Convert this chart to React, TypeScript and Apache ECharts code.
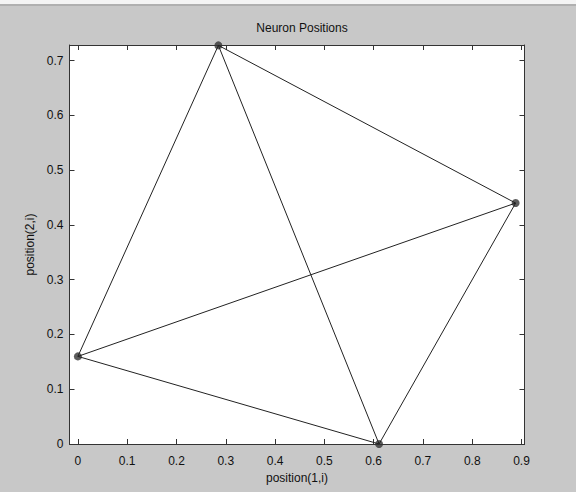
import React, { useEffect, useRef } from "react";
import * as echarts from "echarts";

const neuronX = [0, 0.285, 0.888, 0.611];
const neuronY = [0.16, 0.728, 0.44, 0];
const edges: [number, number][] = [
  [0, 1],
  [0, 2],
  [0, 3],
  [1, 2],
  [1, 3],
  [2, 3],
];
const xTicks = [0, 0.1, 0.2, 0.3, 0.4, 0.5, 0.6, 0.7, 0.8, 0.9];
const yTicks = [0, 0.1, 0.2, 0.3, 0.4, 0.5, 0.6, 0.7];
const xRange = [-0.017, 0.906];
const yRange = [0, 0.7287];

export default function App() {
  const ref = useRef<HTMLDivElement>(null);
  useEffect(() => {
    document.body.style.margin = "0";
    const chart = echarts.init(ref.current!, null, { renderer: "svg" });
    const lineData: (number[] | null)[] = [];
    edges.forEach(([a, b], i) => {
      if (i > 0) lineData.push(null as any);
      lineData.push([neuronX[a], neuronY[a]]);
      lineData.push([neuronX[b], neuronY[b]]);
    });
    const font = "'Liberation Sans', Arial, sans-serif";
    const axisLineStyle = { color: "#333", width: 1 };
    const baseX = {
      type: "value" as const,
      min: xRange[0],
      max: xRange[1],
      splitLine: { show: false },
      axisLine: { show: true, onZero: false, lineStyle: axisLineStyle },
    };
    const baseY = {
      type: "value" as const,
      min: yRange[0],
      max: yRange[1],
      splitLine: { show: false },
      axisLine: { show: true, onZero: false, lineStyle: axisLineStyle },
    };
    chart.setOption({
      animation: false,
      backgroundColor: "#c8c8c8",
      textStyle: { fontFamily: font },
      title: {
        text: "Neuron Positions",
        left: 297,
        top: 17,
        textAlign: "center",
        textStyle: { fontSize: 12, fontWeight: "normal", color: "#111", fontFamily: font },
      },
      graphic: [
        { type: "rect", shape: { x: 0, y: 0, width: 576, height: 4 }, style: { fill: "#f4f4f4" } },
        { type: "rect", shape: { x: 0, y: 4, width: 576, height: 2 }, style: { fill: "#b0b0b0" } },
      ],
      grid: { left: 69.5, top: 45, right: 51.5, bottom: 48, backgroundColor: "#fff", show: true, borderWidth: 0 },
      xAxis: [
        {
          ...baseX,
          position: "bottom",
          name: "position(1,i)",
          nameLocation: "middle",
          nameGap: 28,
          nameTextStyle: { fontSize: 12, color: "#111", fontFamily: font },
          axisTick: { show: true, inside: true, length: 5, customValues: xTicks, lineStyle: axisLineStyle },
          axisLabel: {
            show: true,
            customValues: xTicks,
            margin: 11,
            fontSize: 12,
            color: "#111",
            fontFamily: font,
            formatter: (v: number) => String(Math.round(v * 10) / 10),
          },
        },
        {
          ...baseX,
          position: "top",
          axisTick: { show: true, inside: true, length: 5, customValues: xTicks, lineStyle: axisLineStyle },
          axisLabel: { show: false },
        },
      ],
      yAxis: [
        {
          ...baseY,
          position: "left",
          name: "position(2,i)",
          nameLocation: "middle",
          nameGap: 30,
          nameTextStyle: { fontSize: 12, color: "#111", fontFamily: font },
          axisTick: { show: true, inside: true, length: 5, customValues: yTicks, lineStyle: axisLineStyle },
          axisLabel: {
            show: true,
            customValues: yTicks,
            margin: 6,
            fontSize: 12,
            color: "#111",
            fontFamily: font,
            formatter: (v: number) => String(Math.round(v * 10) / 10),
          },
        },
        {
          ...baseY,
          position: "right",
          axisTick: { show: true, inside: true, length: 5, customValues: yTicks, lineStyle: axisLineStyle },
          axisLabel: { show: false },
        },
      ],
      series: [
        {
          type: "line",
          data: lineData,
          connectNulls: false,
          showSymbol: false,
          symbol: "none",
          lineStyle: { color: "#222", width: 1 },
          clip: false,
        },
        {
          type: "scatter",
          data: neuronX.map((x, i) => [x, neuronY[i]]),
          symbolSize: 8,
          itemStyle: { color: "#333" },
          clip: false,
        },
      ],
    });
    return () => chart.dispose();
  }, []);
  return <div ref={ref} style={{ width: 576, height: 492 }} />;
}
